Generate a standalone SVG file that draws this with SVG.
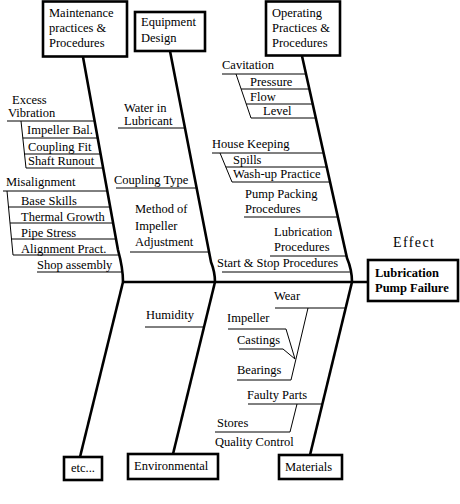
<svg xmlns="http://www.w3.org/2000/svg" width="460" height="504" viewBox="0 0 460 504">
<style>
text{font-family:"Liberation Serif",Tinos,"Times New Roman",Times,"Noto Serif","DejaVu Serif",FreeSerif,serif;font-size:12.5px;fill:#000}
.b{font-weight:bold}
.box{fill:#fff;stroke:#000;stroke-width:2.6}
.bone{fill:none;stroke:#000;stroke-width:2.6}
.thin{fill:none;stroke:#000;stroke-width:1}
</style>
<rect width="460" height="504" fill="#fff"/>
<g id="connectors">
<path class="bone" d="M83,57 L118,250 Q123,268 123,282"/>
<path class="bone" d="M123,282 L80,457"/>
<path class="bone" d="M170,51 L211,262 Q215,272 215,282"/>
<path class="bone" d="M215,282 L173,454"/>
<path class="bone" d="M302,56 L347,258 Q352,270 352,282"/>
<path class="bone" d="M352,282 L310,455"/>
<path class="bone" d="M123,282 H368"/>
</g>
<g id="maintenance">
<rect class="box" x="43" y="1.5" width="84" height="55"/>
<text x="49" y="17">Maintenance</text>
<text x="49" y="32">practices &amp;</text>
<text x="49" y="47">Procedures</text>
<text x="12" y="104">Excess</text>
<text x="8" y="117">Vibration</text>
<path class="thin" d="M7,121 H94.4 M21,121 L26,168"/>
<text x="27" y="134">Impeller Bal.</text>
<path class="thin" d="M22.8,138 H97.4"/>
<text x="28" y="151">Coupling Fit</text>
<path class="thin" d="M24.3,154 H100.3"/>
<text x="28" y="165">Shaft Runout</text>
<path class="thin" d="M26,168 H102.7"/>
<text x="6" y="186">Misalignment</text>
<path class="thin" d="M3,191 H106.8 M7,191 L13,255"/>
<text x="21" y="205">Base Skills</text>
<path class="thin" d="M8.5,207 H109.7"/>
<text x="21" y="221">Thermal Growth</text>
<path class="thin" d="M10,223 H112.5"/>
<text x="21" y="237">Pipe Stress</text>
<path class="thin" d="M11.5,239 H115.4"/>
<text x="21" y="253">Alignment Pract.</text>
<path class="thin" d="M13,255 H118.2"/>
<text x="37" y="269">Shop assembly</text>
<path class="thin" d="M37,272 H121.2"/>
</g>
<g id="equipment">
<rect class="box" x="135" y="12" width="70" height="39"/>
<text x="141" y="26">Equipment</text>
<text x="141" y="42">Design</text>
<text x="124" y="112">Water in</text>
<text x="124" y="125">Lubricant</text>
<path class="thin" d="M118,128 H185.2"/>
<text x="114" y="184">Coupling Type</text>
<path class="thin" d="M116,188 H197.2"/>
<text x="135" y="213">Method of</text>
<text x="135" y="230">Impeller</text>
<text x="135" y="246">Adjustment</text>
<path class="thin" d="M130,252 H210"/>
</g>
<g id="operating">
<rect class="box" x="266" y="1.5" width="74" height="54"/>
<text x="272" y="17">Operating</text>
<text x="272" y="32">Practices &amp;</text>
<text x="272" y="47">Procedures</text>
<text x="222" y="69">Cavitation</text>
<path class="thin" d="M222,74 H306 M236,74 L251,118"/>
<text x="250" y="86">Pressure</text>
<path class="thin" d="M241.1,89 H309.3"/>
<text x="250" y="101">Flow</text>
<path class="thin" d="M246.2,104 H312.6"/>
<text x="263" y="115">Level</text>
<path class="thin" d="M251,118 H315.7"/>
<text x="212" y="148">House Keeping</text>
<path class="thin" d="M212,153 H323.5 M220,153 L232,182"/>
<text x="233" y="164">Spills</text>
<path class="thin" d="M225.8,167 H326.6"/>
<text x="233" y="178">Wash-up Practice</text>
<path class="thin" d="M232,182 H329.9"/>
<text x="245" y="198">Pump Packing</text>
<text x="245" y="213">Procedures</text>
<path class="thin" d="M244,217 H337.6"/>
<text x="274" y="236">Lubrication</text>
<text x="274" y="251">Procedures</text>
<path class="thin" d="M270,256 H346.2"/>
<text x="217" y="267">Start &amp; Stop Procedures</text>
<path class="thin" d="M222,272 H349.8"/>
</g>
<g id="effect">
<text x="393" y="247" style="font-size:14px;letter-spacing:1.4px">Effect</text>
<rect class="box" x="368" y="260" width="90" height="41"/>
<text class="b" x="375" y="277">Lubrication</text>
<text class="b" x="375" y="292">Pump Failure</text>
</g>
<g id="etc">
<rect class="box" x="64" y="457" width="38" height="23"/>
<text x="83" y="472" text-anchor="middle">etc...</text>
</g>
<g id="environmental">
<rect class="box" x="128" y="454" width="90" height="25"/>
<text x="134" y="470">Environmental</text>
<text x="146" y="319">Humidity</text>
<path class="thin" d="M145,327 H204"/>
</g>
<g id="materials">
<rect class="box" x="279" y="455" width="63" height="24"/>
<text x="285" y="471">Materials</text>
<text x="274" y="300">Wear</text>
<path class="thin" d="M275,308 H345.6 M308,308 L291,380"/>
<text x="227" y="322">Impeller</text>
<path class="thin" d="M228,329 H286 L295,359"/>
<text x="237" y="344">Castings</text>
<path class="thin" d="M239,349 H283 L295,359"/>
<text x="237" y="374">Bearings</text>
<path class="thin" d="M237,380 H291"/>
<text x="247" y="399">Faulty Parts</text>
<path class="thin" d="M248,404 H322.4 M297,404 L290,432"/>
<text x="217" y="427">Stores</text>
<path class="thin" d="M215,432 H290"/>
<text x="215" y="446">Quality Control</text>
</g>
</svg>
